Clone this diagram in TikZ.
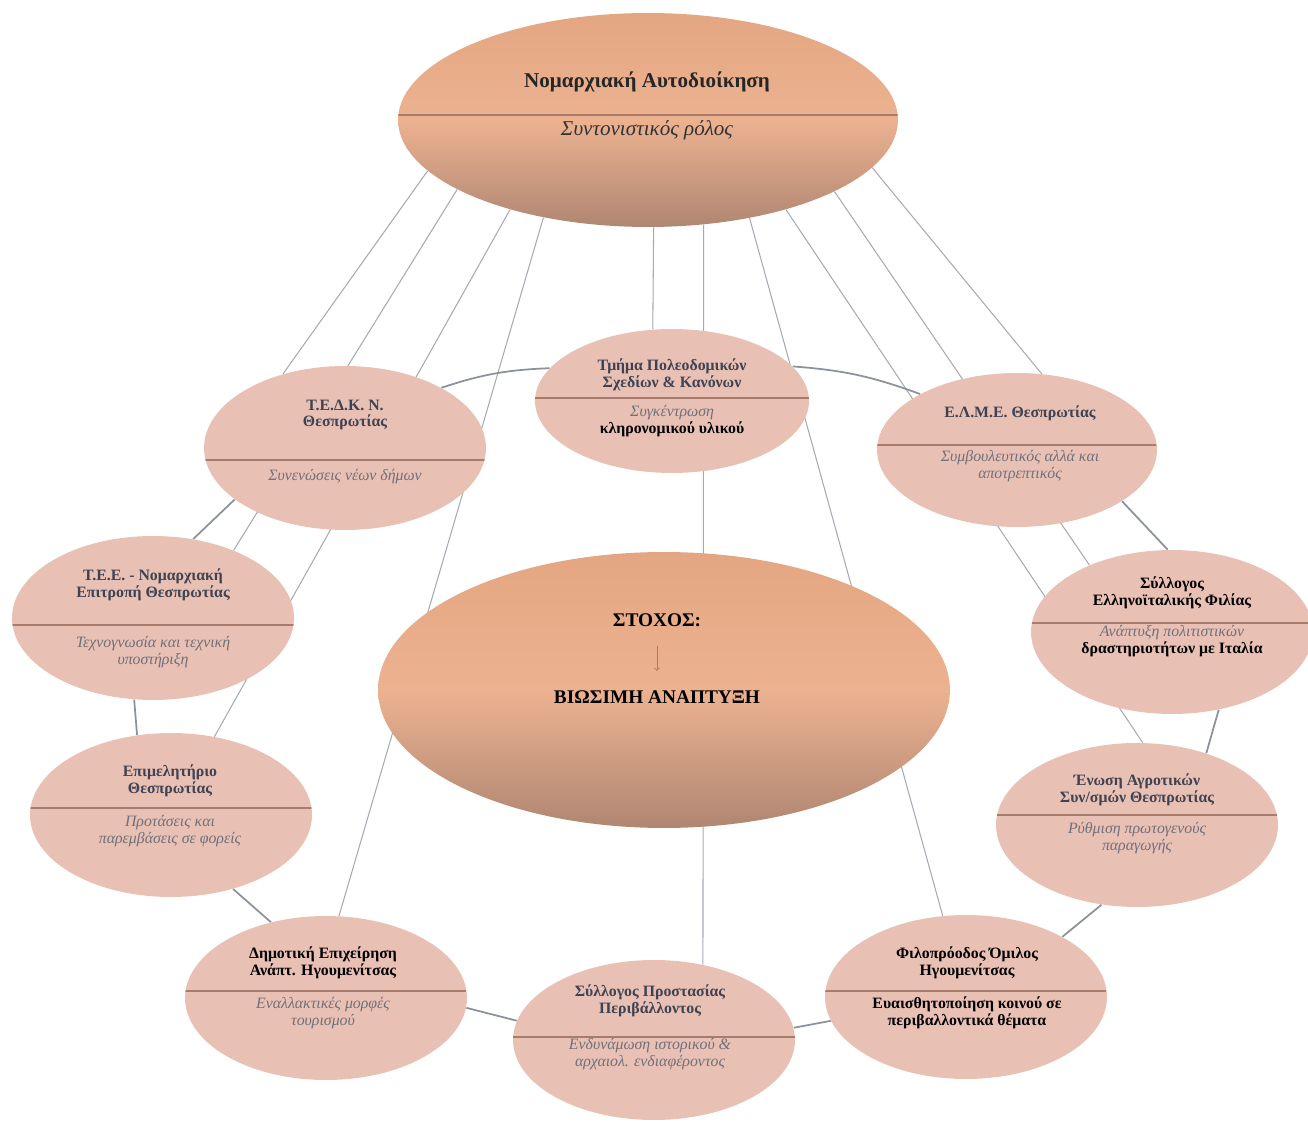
\documentclass[tikz,border=0pt]{standalone}
\usepackage{fontspec}
\setmainfont{Liberation Serif}
\usetikzlibrary{shapes.geometric,backgrounds}
\definecolor{satfill}{RGB}{233,192,180}
\definecolor{sepcol}{RGB}{168,124,108}
\definecolor{spokecol}{RGB}{165,170,180}
\definecolor{ringcol}{RGB}{140,146,156}
\definecolor{ttlcol}{RGB}{62,66,82}
\definecolor{subcol}{RGB}{112,112,122}
\definecolor{hubtop}{RGB}{228,166,130}
\definecolor{hubmid}{RGB}{236,178,144}
\definecolor{hubbot}{RGB}{176,134,114}

\begin{document}
\begin{tikzpicture}[x=0.02cm,y=-0.02cm,
  sepat/.style={path picture={\draw[sepcol,line width=1.2pt]
    ([yshift={-(#1)*0.02cm}]path picture bounding box.west) --
    ([yshift={-(#1)*0.02cm}]path picture bounding box.east);}},
  sat/.style={ellipse,fill=satfill,inner sep=0pt,
    minimum width=5.64cm,minimum height=3.28cm,sepat=#1},
  hub/.style={ellipse,inner sep=0pt,top color=hubtop,bottom color=hubbot,middle color=hubmid},
  ttl/.style={align=center,inner sep=0pt,text=ttlcol,font=\fontsize{9}{9.5}\selectfont\bfseries},
  blk/.style={align=center,inner sep=0pt,text=black,font=\fontsize{9}{9.5}\selectfont\bfseries},
  sub/.style={align=center,inner sep=0pt,text=subcol,font=\fontsize{9}{10}\selectfont\itshape},
  spoke/.style={spokecol,line width=0.6pt},
  ring/.style={ringcol,line width=1pt}]
\useasboundingbox (0,0) rectangle (1308,1124);
%
\node[hub,sepat=-5,minimum width=10cm,minimum height=4.28cm] (top) at (648,120) {};
\node[align=center,inner sep=0pt,font=\fontsize{12}{13}\selectfont\bfseries,text=black!85] (top-t) at (647,82) {Νομαρχιακή Αυτοδιοίκηση};
\node[align=center,inner sep=0pt,font=\fontsize{12}{13}\selectfont\itshape,text=black!80] (top-s) at (647,130) {Συντονιστικός ρόλος};
%
\node[sat=-3,minimum width=5.48cm,minimum height=2.88cm] (tmima) at (672,401) {};
\node[ttl] (tmima-t) at (672,375) {Τμήμα Πολεοδομικών\\Σχεδίων \& Κανόνων};
\node[sub] (tmima-s) at (672,421) {Συγκέντρωση\\{\upshape\bfseries\color{black}κληρονομικού υλικού}};
%
\node[sat=12] (tedkn) at (345,448) {};
\node[ttl] (tedkn-t) at (345,415) {Τ.Ε.Δ.Κ. Ν.\\Θεσπρωτίας};
\node[sub] (tedkn-s) at (345,477) {Συνενώσεις νέων δήμων};
%
\node[sat=-5,minimum width=5.6cm,minimum height=3.08cm] (eame) at (1017,450) {};
\node[ttl] (eame-t) at (1020,413) {Ε.Λ.Μ.Ε. Θεσπρωτίας};
\node[sub] (eame-s) at (1020,466) {Συμβουλευτικός αλλά και\\αποτρεπτικός};
%
\node[sat=7] (tee) at (153,618) {};
\node[ttl] (tee-t) at (153,585) {Τ.Ε.Ε. - Νομαρχιακή\\Επιτροπή Θεσπρωτίας};
\node[sub] (tee-s) at (153,652) {Τεχνογνωσία και τεχνική\\υποστήριξη};
%
\node[sat=-9] (syllell) at (1172,632) {};
\node[blk] (syllell-t) at (1172,593) {Σύλλογος\\Ελληνοϊταλικής Φιλίας};
\node[sub] (syllell-s) at (1172,641) {Ανάπτυξη πολιτιστικών\\{\upshape\bfseries\color{black}δραστηριοτήτων με Ιταλία}};
%
\node[sat=-7] (epim) at (171,815) {};
\node[ttl] (epim-t) at (170,781) {Επιμελητήριο\\Θεσπρωτίας};
\node[sub] (epim-s) at (170,831) {Προτάσεις και\\παρεμβάσεις σε φορείς};
%
\node[sat=-10] (enosi) at (1137,825) {};
\node[ttl] (enosi-t) at (1137,790) {Ένωση Αγροτικών\\Συν/σμών Θεσπρωτίας};
\node[sub] (enosi-s) at (1137,838) {Ρύθμιση πρωτογενούς\\παραγωγής};
%
\node[sat=-7] (anapt) at (326,998) {};
\node[blk] (anapt-t) at (323,963) {Δημοτική Επιχείρηση\\Ανάπτ. Ηγουμενίτσας};
\node[sub] (anapt-s) at (323,1013) {Εναλλακτικές μορφές\\τουρισμού};
%
\node[sat=-3,minimum height=3.2cm] (syllprot) at (654,1040) {};
\node[ttl] (syllprot-t) at (650,1001) {Σύλλογος Προστασίας\\Περιβάλλοντος};
\node[sub] (syllprot-s) at (650,1054) {Ενδυνάμωση ιστορικού \&\\αρχαιολ. ενδιαφέροντος};
%
\node[sat=-6] (filop) at (966,997) {};
\node[blk] (filop-t) at (967,963) {Φιλοπρόοδος Όμιλος\\Ηγουμενίτσας};
\node[blk] (filop-s) at (967,1013) {Ευαισθητοποίηση κοινού σε\\περιβαλλοντικά θέματα};
%
\node[hub,minimum width=11.44cm,minimum height=5.52cm] (goal) at (664,690) {};
\node[inner sep=1pt,font=\fontsize{11}{12}\selectfont\bfseries] (goal-t) at (657,620) {ΣΤΟΧΟΣ:};
\node[inner sep=1pt,font=\fontsize{11}{12}\selectfont\bfseries] (goal-s) at (657,697) {ΒΙΩΣΙΜΗ ΑΝΑΠΤΥΞΗ};
\draw[->,sepcol,shorten <=10pt,shorten >=10pt] (goal-t) -- (goal-s);
%
\begin{pgfonlayer}{background}
\draw[spoke] (top.193) -- (tedkn.130);
\draw[spoke] (top.200) -- (tee.40);
\draw[spoke] (top.213) -- (epim.61);
\draw[spoke] (top.223) -- (anapt.81);
\draw[spoke] (top.273) -- (tmima.105);
\draw[spoke] (top.298) -- (syllprot.57);
\draw[spoke] (top.316) -- (filop.106);
\draw[spoke] (top.327) -- (enosi.86);
\draw[spoke] (top.339) -- (syllell.141);
\draw[spoke] (top.348) -- (eame.72);
%
\draw[ring] (tedkn.32) to[bend left=8] (tmima.165);
\draw[ring] (tmima.16) to[bend left=8] (eame.150);
\draw[ring] (eame.334) -- (syllell.93);
\draw[ring] (syllell.301) -- (enosi.46);
\draw[ring] (enosi.246) -- (filop.32);
\draw[ring] (filop.190) -- (syllprot.5);
\draw[ring] (syllprot.172) -- (anapt.356);
\draw[ring] (anapt.126) -- (epim.310);
\draw[ring] (epim.113) -- (tee.257);
\draw[ring] (tee.63) -- (tedkn.205);
\end{pgfonlayer}
\end{tikzpicture}
\end{document}
